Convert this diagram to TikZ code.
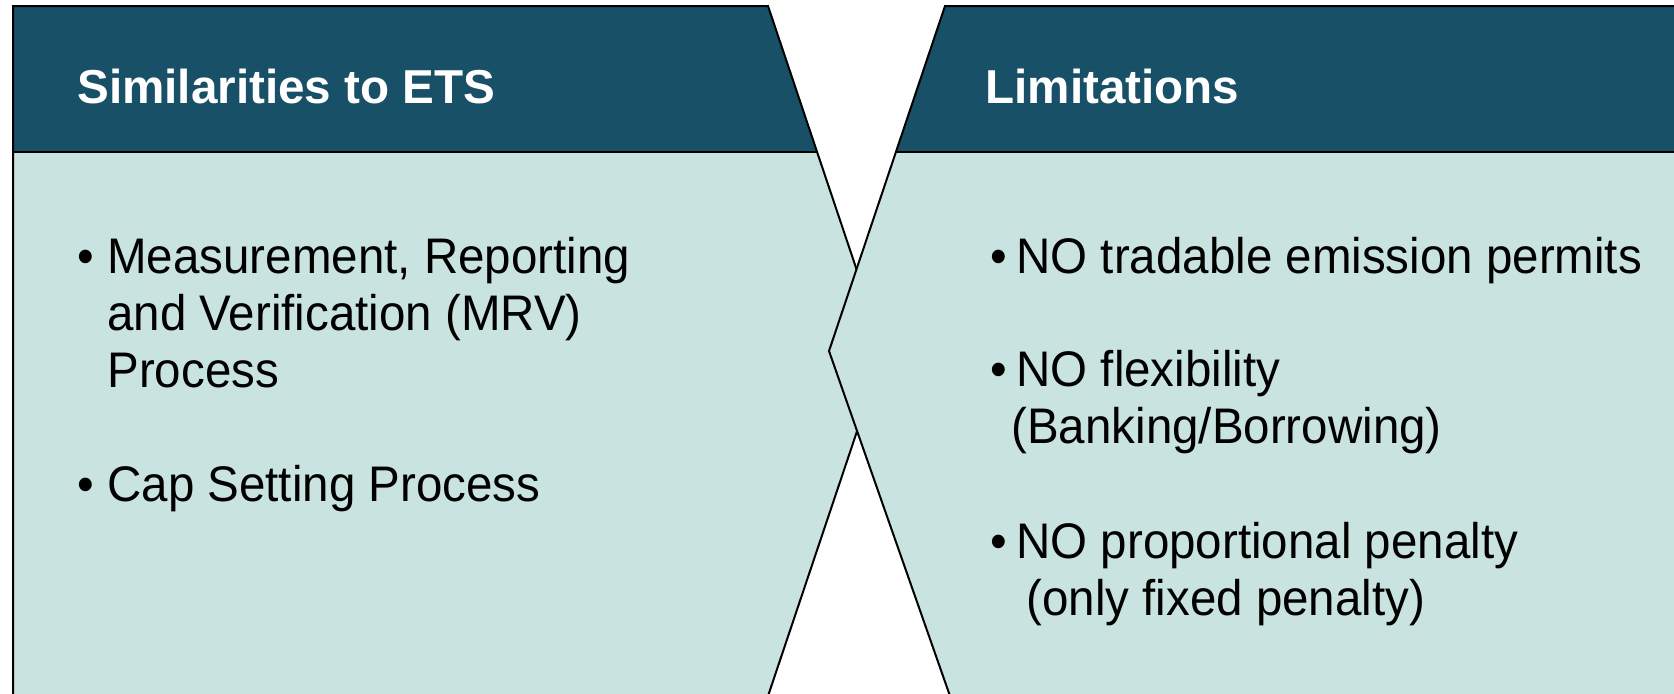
\documentclass[tikz,border=0pt]{standalone}
\usepackage{fontspec}
\setmainfont{Liberation Sans}
\newfontfamily\bodyfont[FakeStretch=0.95]{Liberation Sans}

\definecolor{headteal}{HTML}{175067}
\definecolor{bodyteal}{HTML}{C9E4E0}

\begin{document}
\begin{tikzpicture}[x=0.5pt, y=-0.5pt,
    headtxt/.style={anchor=base west, inner sep=0pt, text=white,
        font=\fontsize{23.8}{28}\selectfont\bfseries},
    itemtxt/.style={anchor=base west, inner sep=0pt,
        font=\bodyfont\fontsize{25}{30}\selectfont},
    bulletdot/.style={itemtxt},
    edgeline/.style={black, line width=1pt}]

    % 画布大小
    \useasboundingbox (0,0) rectangle (1674,693);

    % 左侧面板的角点
    \coordinate (LTL) at (13,6);
    \coordinate (LTR) at (768,6);
    \coordinate (LTip) at (884,351);
    \coordinate (LBR) at (768,696);
    \coordinate (LBL) at (13,696);

    % 右侧面板的角点
    \coordinate (RTL) at (945,6);
    \coordinate (RTip) at (829,351);
    \coordinate (RBL) at (950,696);
    \coordinate (RTR) at (1690,6);
    \coordinate (RBR) at (1690,696);

    % 左侧面板
    \fill[bodyteal] (LTL) -- (LTR) -- (LTip) -- (LBR) -- (LBL) -- cycle;
    \begin{scope}
        \clip (LTL) -- (LTR) -- (LTip) -- (LBR) -- (LBL) -- cycle;
        \fill[headteal] (0,0) rectangle (1000,152);
        \draw[edgeline] (0,152) -- (1000,152);
    \end{scope}
    \draw[edgeline] (LBL) -- (LTL) -- (LTR) -- (LTip) -- (LBR);

    % 右侧面板 (盖住左侧面板的尖角)
    \fill[bodyteal] (RTL) -- (RTR) -- (RBR) -- (RBL) -- (RTip) -- cycle;
    \begin{scope}
        \clip (RTL) -- (RTR) -- (RBR) -- (RBL) -- (RTip) -- cycle;
        \fill[headteal] (800,0) rectangle (1700,152);
        \draw[edgeline] (800,152) -- (1700,152);
    \end{scope}
    \draw[edgeline] (RTR) -- (RTL) -- (RTip) -- (RBL);

    % 标题
    \node[headtxt] (simtitle) at (77,103) {Similarities to ETS};
    \node[headtxt] (limtitle) at (985,103) {Limitations};

    % 项目符号
    \foreach \bx/\by/\nm in {77/273/b1, 77/501/b2, 990/273/b3, 990/386/b4, 990/558/b5}
        \node[bulletdot] (\nm) at (\bx,\by) {•};

    % 左侧条目
    \node[itemtxt] (mrv1) at (107,273) {Measurement, Reporting};
    \node[itemtxt] (mrv2) at (107,330) {and Verification (MRV)};
    \node[itemtxt] (mrv3) at (107,387) {Process};
    \node[itemtxt] (cap) at (107,501) {Cap Setting Process};

    % 右侧条目
    \node[itemtxt] (trade) at (1016,273) {NO tradable emission permits};
    \node[itemtxt] (flex1) at (1016,386) {NO flexibility};
    \node[itemtxt] (flex2) at (1011,443) {(Banking/Borrowing)};
    \node[itemtxt] (pen1) at (1016,558) {NO proportional penalty};
    \node[itemtxt] (pen2) at (1026,615) {(only fixed penalty)};
\end{tikzpicture}
\end{document}
